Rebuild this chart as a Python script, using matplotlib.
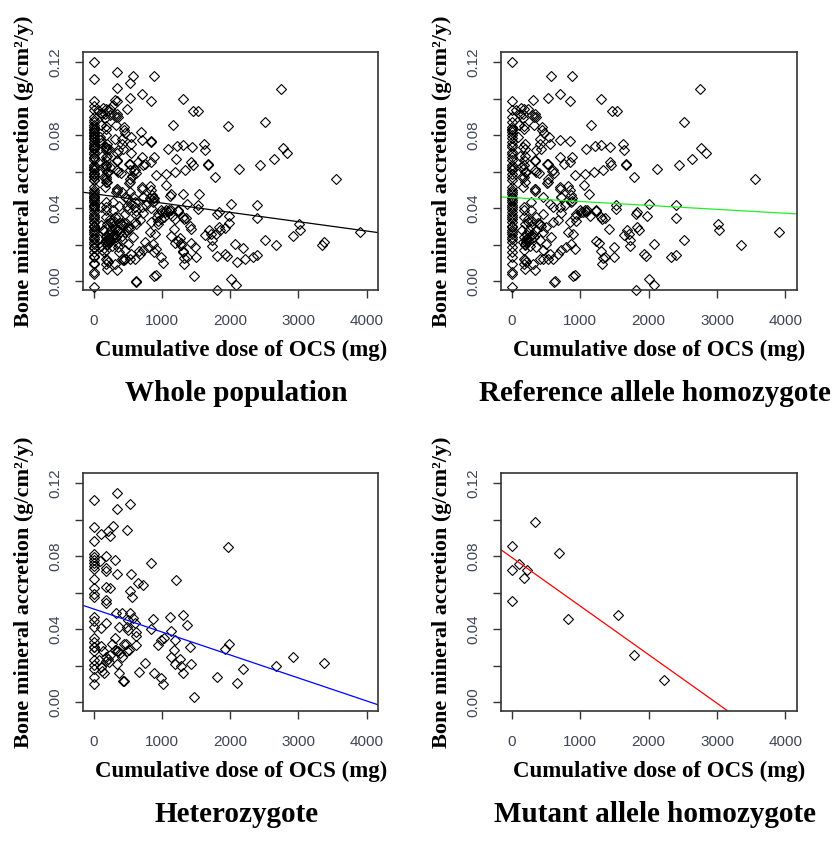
import numpy as np
import matplotlib.pyplot as plt

# Reference allele homozygote: cumulative OCS dose (mg) and bone mineral accretion (g/cm2/y)
ref_dose = [0] * 45 + [
    175, 160, 180, 170, 185, 165, 190, 175, 180, 165, 170, 185, 175, 180, 170, 185, 175, 165, 190, 180, 170, 195, 175, 185,
    576, 883, 307, 527, 707, 844, 332, 356, 112, 234, 322, 444, 541, 405, 551, 698, 844, 346, 429, 185, 332, 517, 600, 698,
    844, 332, 356, 527, 917, 185, 151, 161, 332, 527, 698, 820, 844, 722, 859, 868, 454, 283, 600, 698, 551, 771, 941, 990,
    283, 356, 454, 722, 673, 844, 941, 234, 405, 502, 600, 151, 307, 454, 576, 820, 893, 200, 210, 190, 220, 283, 405, 502,
    356, 454, 551, 673, 722, 795, 868, 917, 405, 454, 527, 600, 307, 210, 332, 624, 917, 117, 150, 200, 341, 400, 522, 590,
    610, 756, 883, 512, 336, 341, 700, 717, 883, 883, 60, 137, 300, 327, 166, 102, 434, 463, 93, 410, 1054, 1088, 1063, 925,
    1307, 1459, 1532, 2512, 2751, 1156, 1220, 1307, 1439, 1620, 1634, 1673, 1668, 1780, 2122, 2444, 2639, 2771, 2839, 3556,
    1063, 1195, 1337, 1429, 1454, 1127, 1527, 2005, 2395, 1005, 1044, 1098, 1141, 1234, 1307, 1322, 1527, 1810, 1829, 1976,
    2395, 3015, 3024, 3907, 1420, 1688, 1712, 1829, 1854, 1634, 1727, 1732, 1229, 1273, 2073, 2512, 3346, 1488, 1307, 1327,
    1361, 1498, 1317, 1927, 1956, 2327, 2395, 888, 620, 1810, 2005, 2083, 1088, 1235, 1356,
    220, 240, 260, 200, 250, 280, 300, 230, 270, 320, 350, 380, 420, 0, 0, 0, 0, 0, 0, 0, 0, 0, 0, 0]
ref_bma = [
    0.120, 0.0985, 0.094, 0.090, 0.0873, 0.0835, 0.0827, 0.0815, 0.0799, 0.0763, 0.0735, 0.0699, 0.0662, 0.0635, 0.0625,
    0.0617, 0.0610, 0.0589, 0.0553, 0.0516, 0.0489, 0.0480, 0.0462, 0.0455, 0.0434, 0.0420, 0.0407, 0.0395, 0.0380, 0.0352,
    0.0325, 0.0305, 0.0297, 0.0270, 0.0260, 0.0243, 0.0230, 0.0215, 0.0188, 0.0161, 0.0133, 0.0097, 0.0051, 0.0042, -0.0031,
    0.0945, 0.0917, 0.0848, 0.0835, 0.0753, 0.0735, 0.0726, 0.0662, 0.0635, 0.0617, 0.0571, 0.0544, 0.0407, 0.0389, 0.0352,
    0.0316, 0.0243, 0.0215, 0.0197, 0.0170, 0.0124, 0.0115, 0.0097, 0.0069,
    0.1124, 0.1124, 0.0990, 0.1005, 0.1027, 0.0987, 0.0917, 0.0899, 0.0917, 0.0945, 0.0854, 0.0826, 0.0790, 0.0781, 0.0753,
    0.0775, 0.0768, 0.0720, 0.0726, 0.0684, 0.0662, 0.0644, 0.0607, 0.0680, 0.0653, 0.0607, 0.0598, 0.0562, 0.0580, 0.0598,
    0.0571, 0.0516, 0.0507, 0.0544, 0.0516, 0.0522, 0.0498, 0.0462, 0.0474, 0.0434, 0.0462, 0.0434, 0.0407, 0.0407, 0.0425,
    0.0416, 0.0370, 0.0389, 0.0389, 0.0352, 0.0370, 0.0374, 0.0334, 0.0325, 0.0330, 0.0325, 0.0316, 0.0297, 0.0325, 0.0279,
    0.0261, 0.0270, 0.0243, 0.0270, 0.0261, 0.0224, 0.0215, 0.0206, 0.0230, 0.0233, 0.0224, 0.0206, 0.0188, 0.0170, 0.0151,
    0.0151, 0.0170, 0.0188, 0.0206, 0.0179, 0.0124, 0.0124, 0.0124, 0.0124, 0.0097, 0.0106, 0.0060, 0.0002, 0.0033, 0.0684,
    0.0630, 0.0600, 0.0657, 0.0591, 0.0642, 0.0604, 0.0593, 0.0644, 0.0679, 0.0538, 0.0505, 0.0494, 0.0507, 0.0461, 0.0454,
    0.0440, 0.094, 0.0950, 0.091, 0.090, 0.0896, 0.0854, 0.0843, 0.0812, 0.0788, 0.0750, 0.0525, 0.0726, 0.0392, 0.0350,
    0.1000, 0.0932, 0.0932, 0.0870, 0.1054, 0.0857, 0.0739, 0.0744, 0.0733, 0.0751, 0.0720, 0.0635, 0.0640, 0.0569, 0.0615,
    0.0635, 0.0670, 0.0728, 0.0704, 0.0558, 0.0586, 0.0598, 0.0607, 0.0653, 0.0635, 0.0476, 0.0420, 0.0423, 0.0418, 0.0378,
    0.0378, 0.0392, 0.0358, 0.0390, 0.0350, 0.0341, 0.0397, 0.0370, 0.0379, 0.0359, 0.0347, 0.0316, 0.0279, 0.0272, 0.0286,
    0.0279, 0.0257, 0.0295, 0.0279, 0.0255, 0.0224, 0.0195, 0.0221, 0.0212, 0.0202, 0.0224, 0.0201, 0.0188, 0.0168, 0.0128,
    0.0133, 0.0133, 0.0097, 0.0148, 0.0137, 0.0133, 0.0146, 0.0027, -0.0004, -0.0049, 0.0013, -0.0018, 0.0380, 0.0385, 0.0345,
    0.0235, 0.0220, 0.0245, 0.0260, 0.0280, 0.0300, 0.0330, 0.0340, 0.0195, 0.0240, 0.0280, 0.0320, 0.0300,
    0.0845, 0.0785, 0.0745, 0.0710, 0.0680, 0.0570, 0.0500, 0.0445, 0.0360, 0.0340, 0.0280]

# Heterozygote
het_dose = [
    0, 342, 337, 527, 0, 273, 200, 239, 98, 483, 0, 181, 308, 342, 830, 83, 1963, 1201, 542, 650, 713, 523, 562,
    0, 0, 0, 0, 0, 0, 0, 0, 0, 0, 0, 0, 0, 0, 0, 0, 0, 0, 0, 0, 0, 0, 0,
    171, 181, 181, 230, 171, 176, 327, 405, 361, 181, 107, 503, 527, 571, 601, 488, 503, 615, 615, 615, 864, 835,
    1109, 1133, 1309, 1363, 991, 1021, 943, 1187, 1177, 1128, 1192, 1260, 1280, 1309, 1416, 1431, 1470, 742, 654,
    879, 982, 1016, 1802, 1919, 1988, 2095, 2188, 2676, 2916, 3370, 313, 337, 347, 435, 303, 337, 361, 425, 444,
    98, 132, 73, 98, 122, 151, 181, 200, 181, 220, 239, 269, 488, 508, 415, 386, 469]
het_bma = [
    0.1107, 0.1147, 0.1060, 0.1087, 0.0960, 0.0966, 0.0938, 0.0911, 0.0922, 0.0942, 0.0882, 0.0799, 0.0777, 0.0702,
    0.0764, 0.0773, 0.0848, 0.0668, 0.0702, 0.0655, 0.0639, 0.0608, 0.0577,
    0.0813, 0.0795, 0.0777, 0.0762, 0.0748, 0.0730, 0.0673, 0.0628, 0.0592, 0.0577, 0.0465, 0.0447, 0.0410, 0.0350,
    0.0327, 0.0305, 0.0278, 0.0232, 0.0205, 0.0181, 0.0136, 0.0100, 0.0300,
    0.0733, 0.0719, 0.0632, 0.0628, 0.0559, 0.0545, 0.0486, 0.0486, 0.0414, 0.0432, 0.0408, 0.0450, 0.0490, 0.0459,
    0.0432, 0.0410, 0.0396, 0.0387, 0.0365, 0.0314, 0.0457, 0.0399,
    0.0465, 0.0392, 0.0476, 0.0423, 0.0341, 0.0350, 0.0312, 0.0341, 0.0287, 0.0245, 0.0209, 0.0238, 0.0200, 0.0160,
    0.0305, 0.0209, 0.0027, 0.0214, 0.0163,
    0.0160, 0.0131, 0.0100, 0.0136, 0.0290, 0.0319, 0.0107, 0.0181, 0.0196, 0.0250, 0.0216, 0.0350, 0.0283, 0.0283,
    0.0319, 0.0287, 0.0209, 0.0160, 0.0114, 0.0114,
    0.0309, 0.0279, 0.0229, 0.0192, 0.0169, 0.0160, 0.0247, 0.0236, 0.0225, 0.0218, 0.0260, 0.0321, 0.0278, 0.0287,
    0.0250, 0.0269, 0.0319]

# Mutant allele homozygote
mut_dose = [0, 0, 0, 102, 176, 224, 341, 688, 820, 1546, 1785, 2224]
mut_bma = [0.0853, 0.0724, 0.0554, 0.0759, 0.0682, 0.0724, 0.0984, 0.0819, 0.0456, 0.0476, 0.0258, 0.0122]

all_dose = ref_dose + het_dose + mut_dose
all_bma = ref_bma + het_bma + mut_bma

# regression lines as drawn in the figure (intercept, slope per mg)
fit_intercept = [0.0479, 0.0458, 0.0510, 0.0792]
fit_slope = [-5.1e-6, -2.15e-6, -1.257e-5, -2.66e-5]

titles = ['Whole population', 'Reference allele homozygote', 'Heterozygote', 'Mutant allele homozygote']
line_colors = ['black', '#22ee22', '#0000ff', '#ff0000']
panel_data = [(all_dose, all_bma), (ref_dose, ref_bma), (het_dose, het_bma), (mut_dose, mut_bma)]

serif = 'Liberation Serif'
tick_col = '#3e4554'

fig = plt.figure(figsize=(8.39, 8.44), dpi=100)
positions = [[0.0989, 0.6564, 0.3516, 0.282], [0.5971, 0.6564, 0.3528, 0.282],
             [0.0989, 0.1576, 0.3516, 0.282], [0.5971, 0.1576, 0.3528, 0.282]]

for i, pos in enumerate(positions):
    dose, bma = panel_data[i]
    ax = fig.add_axes(pos)
    ax.plot(dose, bma, 'D', markersize=4.8, markerfacecolor='none', markeredgecolor='black',
            markeredgewidth=0.8, clip_on=False)
    xlim = (-161, 4168)
    ax.set_xlim(xlim)
    ax.set_ylim(-0.0048, 0.1255)
    # line across the whole plot region like abline()
    xs = np.array(xlim)
    ax.plot(xs, fit_intercept[i] + fit_slope[i] * xs, color=line_colors[i], linewidth=0.9)

    ax.set_xticks([0, 1000, 2000, 3000, 4000])
    ax.set_xticklabels(['0', '1000', '2000', '3000', '4000'], fontsize=11, color=tick_col,
                       family='Liberation Sans')
    ax.set_yticks([0, 0.02, 0.04, 0.06, 0.08, 0.10, 0.12])
    ax.set_yticklabels(['0.00', '', '0.04', '', '0.08', '', '0.12'], fontsize=11, color=tick_col,
                       family='Liberation Sans', rotation=90, va='center')
    ax.tick_params(direction='out', length=6, width=1, color='#333333')
    ax.tick_params(axis='x', pad=11)
    ax.tick_params(axis='y', pad=9)
    for sp in ax.spines.values():
        sp.set_color('#333333')
        sp.set_linewidth(1.2)

    ax.set_ylabel('Bone mineral accretion (g/cm²/y)', family=serif, fontweight='bold', fontsize=16)
    ax.yaxis.set_label_coords(-0.165, 0.5)
    ax.text(0.535, -0.255, 'Cumulative dose of OCS (mg)', transform=ax.transAxes, ha='center',
            va='center', family=serif, fontweight='bold', fontsize=16.5)
    ax.text(0.52, -0.435, titles[i], transform=ax.transAxes, ha='center', va='center',
            family=serif, fontweight='bold', fontsize=21)

fig.savefig('out.png', dpi=100)
